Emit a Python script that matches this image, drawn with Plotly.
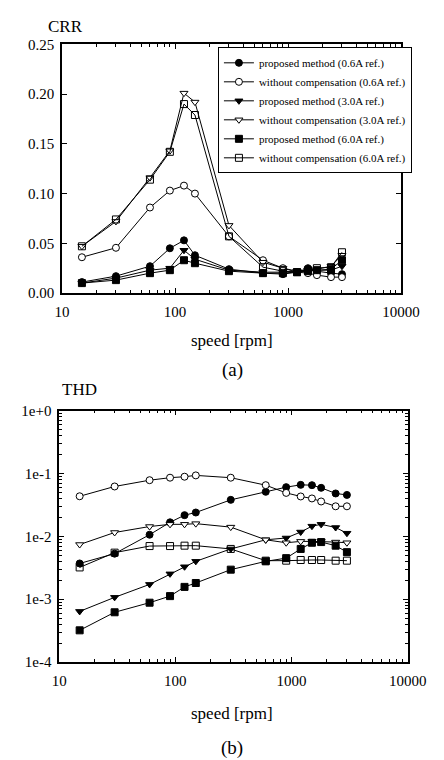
import plotly.graph_objects as go

# ---------------- data ----------------
speed = [15, 30, 60, 90, 120, 150, 300, 600, 900, 1200, 1500, 1800, 2400, 3000]

series_names = [
    "proposed method (0.6A ref.)",
    "without compensation (0.6A ref.)",
    "proposed method (3.0A ref.)",
    "without compensation (3.0A ref.)",
    "proposed method (6.0A ref.)",
    "without compensation (6.0A ref.)",
]

# CRR (a)
crr_prop_06 = [0.011, 0.017, 0.027, 0.045, 0.053, 0.038, 0.024, 0.020, 0.019, 0.021, 0.025, 0.022, 0.020, 0.019]
crr_wo_06 = [0.036, 0.0455, 0.086, 0.103, 0.108, 0.100, 0.057, 0.033, 0.025, 0.021, 0.020, 0.018, 0.016, 0.016]
crr_prop_30 = [0.010, 0.015, 0.023, 0.025, 0.043, 0.034, 0.023, 0.021, 0.021, 0.022, 0.023, 0.023, 0.023, 0.027]
crr_wo_30 = [0.047, 0.072, 0.116, 0.143, 0.201, 0.192, 0.068, 0.031, 0.025, 0.022, 0.023, 0.024, 0.027, 0.038]
crr_prop_60 = [0.010, 0.013, 0.020, 0.023, 0.033, 0.030, 0.022, 0.020, 0.020, 0.021, 0.022, 0.023, 0.024, 0.033]
crr_wo_60 = [0.047, 0.074, 0.114, 0.142, 0.190, 0.179, 0.057, 0.026, 0.022, 0.021, 0.023, 0.025, 0.026, 0.041]

# THD (b)
thd_prop_06 = [0.0037, 0.0053, 0.0106, 0.0167, 0.0217, 0.0239, 0.038, 0.051, 0.0605, 0.0658, 0.065, 0.059, 0.048, 0.0455]
thd_wo_06 = [0.0433, 0.062, 0.078, 0.0855, 0.0886, 0.093, 0.0855, 0.065, 0.049, 0.043, 0.040, 0.0358, 0.030, 0.030]
thd_prop_30 = [0.00064, 0.00107, 0.00172, 0.00253, 0.00328, 0.0040, 0.0063, 0.0088, 0.0094, 0.0117, 0.0145, 0.0155, 0.0138, 0.0112]
thd_wo_30 = [0.0074, 0.0115, 0.0143, 0.0155, 0.0155, 0.0159, 0.0140, 0.0088, 0.0079, 0.0083, 0.0083, 0.0083, 0.0081, 0.0079]
thd_prop_60 = [0.00032, 0.00062, 0.00088, 0.00112, 0.00157, 0.00181, 0.00295, 0.0040, 0.0045, 0.0063, 0.0079, 0.0081, 0.0071, 0.0056]
thd_wo_60 = [0.0032, 0.0055, 0.0070, 0.0070, 0.0071, 0.0071, 0.0063, 0.0041, 0.0041, 0.0042, 0.0042, 0.0042, 0.0041, 0.0041]

x_tickvals = [10, 100, 1000, 10000]
x_ticktext = ["10", "100", "1000", "10000"]
crr_tickvals = [0.00, 0.05, 0.10, 0.15, 0.20, 0.25]
thd_tickvals = [1e-4, 1e-3, 1e-2, 1e-1, 1]
thd_ticktext = ["1e-4", "1e-3", "1e-2", "1e-1", "1e+0"]

# ---------------- styles ----------------
styles = [
    dict(symbol="circle", color="black"),
    dict(symbol="circle", color="white"),
    dict(symbol="triangle-down", color="black"),
    dict(symbol="triangle-down", color="white"),
    dict(symbol="square", color="black"),
    dict(symbol="square-open", color="black"),
]

FONT = "'Liberation Serif', 'Times New Roman', Times, serif"
W, H = 444, 760

fig = go.Figure()

crr_data = [crr_prop_06, crr_wo_06, crr_prop_30, crr_wo_30, crr_prop_60, crr_wo_60]
thd_data = [thd_prop_06, thd_wo_06, thd_prop_30, thd_wo_30, thd_prop_60, thd_wo_60]

for name, ys, st in zip(series_names, crr_data, styles):
    fig.add_trace(go.Scatter(
        x=speed, y=ys, name=name, mode="lines+markers",
        line=dict(color="black", width=1),
        marker=dict(symbol=st["symbol"], color=st["color"], size=7,
                    line=dict(color="black", width=1)),
        xaxis="x", yaxis="y", showlegend=True,
    ))

for name, ys, st in zip(series_names, thd_data, styles):
    fig.add_trace(go.Scatter(
        x=speed, y=ys, name=name, mode="lines+markers",
        line=dict(color="black", width=1),
        marker=dict(symbol=st["symbol"], color=st["color"], size=7,
                    line=dict(color="black", width=1)),
        xaxis="x2", yaxis="y2", showlegend=False,
    ))

minor_log = []
for d in [10, 100, 1000]:
    minor_log += [d * k for k in range(2, 10)]
minor_log_y = []
for d in [1e-4, 1e-3, 1e-2, 1e-1]:
    minor_log_y += [d * k for k in range(2, 10)]

axis_common = dict(
    showline=True, linecolor="black", linewidth=1.5, mirror="ticks",
    ticks="inside", ticklen=5, tickcolor="black", tickwidth=1,
    showgrid=False, zeroline=False,
    tickfont=dict(family=FONT, size=15, color="black"),
)

fig.update_layout(
    width=W, height=H,
    margin=dict(l=0, r=0, t=0, b=0),
    paper_bgcolor="white", plot_bgcolor="white",
    font=dict(family=FONT, color="black"),
    xaxis=dict(type="log", range=[1, 4], domain=[49 / W, 410 / W],
               tickvals=x_tickvals, ticktext=x_ticktext,
               minor=dict(tickvals=minor_log, ticks="inside", ticklen=3, tickcolor="black"),
               anchor="y", ticklabelstandoff=4, **axis_common),
    yaxis=dict(range=[0, 0.25], domain=[1 - 283 / H, 1 - 29 / H],
               tickvals=crr_tickvals, tickformat=".2f",
               anchor="x", ticklabelstandoff=3, **axis_common),
    xaxis2=dict(type="log", range=[1, 4], domain=[46 / W, 417 / W],
                tickvals=x_tickvals, ticktext=x_ticktext,
                minor=dict(tickvals=minor_log, ticks="inside", ticklen=3, tickcolor="black"),
                anchor="y2", ticklabelstandoff=4, **axis_common),
    yaxis2=dict(type="log", range=[-4, 0], domain=[1 - 660 / H, 1 - 403 / H],
                tickvals=thd_tickvals, ticktext=thd_ticktext,
                minor=dict(tickvals=minor_log_y, ticks="inside", ticklen=3, tickcolor="black"),
                anchor="x2", ticklabelstandoff=3, **axis_common),
    legend=dict(
        x=215 / W, y=1 - 32 / H, xanchor="left", yanchor="top",
        bgcolor="white", bordercolor="black", borderwidth=1,
        font=dict(family=FONT, size=11, color="black"),
        tracegroupgap=0, itemwidth=30,
    ),
    showlegend=True,
)

def ann(text, x, y, size, xanchor="center"):
    fig.add_annotation(text=text, x=x / W, y=1 - y / H, xref="paper", yref="paper",
                       showarrow=False, xanchor=xanchor, yanchor="middle",
                       font=dict(family=FONT, size=size, color="black"))

ann("CRR", 32, 11, 17, "left")
ann("speed [rpm]", 230, 331, 17)
ann("(a)", 230, 362, 19)
ann("THD", 47, 382, 17, "left")
ann("speed [rpm]", 230, 713, 17)
ann("(b)", 230, 748, 19)

fig.write_html("out.html")
